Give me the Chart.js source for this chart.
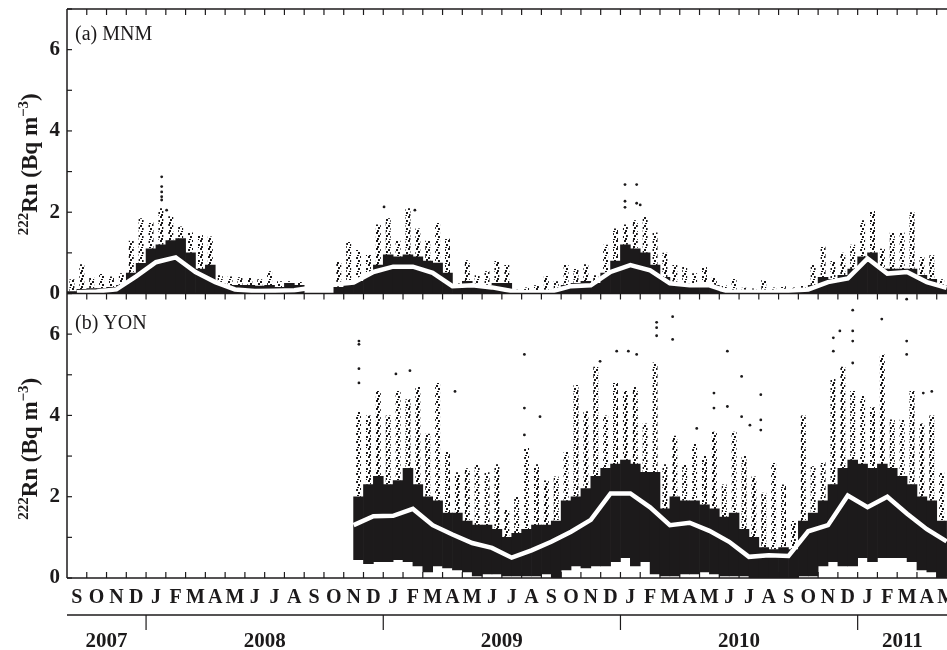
<!DOCTYPE html>
<html>
<head>
<meta charset="utf-8">
<title>222Rn at MNM and YON</title>
<script src="https://cdn.jsdelivr.net/npm/chart.js@4.4.1/dist/chart.umd.min.js"></script>
<style>
  html, body { margin: 0; padding: 0; background: #fff; }
  #wrap { width: 947px; height: 650px; }
</style>
</head>
<body>
<div id="wrap"><canvas id="rn" width="947" height="650"></canvas></div>
<script>
// Month initials along the time axis, Sep 2007 .. May 2011 (month index 0 = Sep 2007)
const monthLabels = [
  'S','O','N','D',
  'J','F','M','A','M','J','J','A','S','O','N','D',
  'J','F','M','A','M','J','J','A','S','O','N','D',
  'J','F','M','A','M','J','J','A','S','O','N','D',
  'J','F','M','A','M'
];
const yearLabels = ['2007', '2008', '2009', '2010', '2011'];
// month index at which each labelled year begins on the axis
const yearStartMonth = [0, 4, 16, 28, 40];

// Monthly mean 222Rn (Bq m-3), one value per month from Sep 2007
const mnmMonthlyMean = [
  0.03, 0.05, 0.10, 0.42, 0.77, 0.89, 0.53, 0.28, 0.10, 0.06, 0.07, 0.08,
  null, 0.22, 0.27, 0.53, 0.66, 0.66, 0.51, 0.18, 0.20, 0.15, 0.06, 0.02,
  0.05, 0.18, 0.20, 0.53, 0.70, 0.57, 0.25, 0.20, 0.20, 0.04, 0.04, 0.04,
  0.07, 0.10, 0.28, 0.37, 0.86, 0.49, 0.53, 0.28, 0.14
];
const yonMonthlyMean = [
  null, null, null, null, null, null, null, null, null, null, null, null,
  null, null, 1.30, 1.52, 1.53, 1.70, 1.30, 1.07, 0.86, 0.74, 0.50, 0.68,
  0.89, 1.14, 1.43, 2.08, 2.08, 1.74, 1.30, 1.36, 1.16, 0.89, 0.52, 0.56,
  0.54, 1.15, 1.30, 2.03, 1.74, 2.00, 1.58, 1.20, 0.90
];

// Hourly values summarised per half month (two bins per month from Sep 2007):
// top of the dense band and top of the sparse spikes
const mnmCoreTop = [
  0.05, 0.10, 0.12, 0.12, 0.15, 0.20, 0.50, 0.74, 1.10, 1.20, 1.30, 1.35,
  1.00, 0.60, 0.70, 0.25, 0.20, 0.20, 0.20, 0.18, 0.20, 0.15, 0.25, 0.20,
  null, null, null, 0.15, 0.25, 0.30, 0.45, 0.70, 0.95, 0.90, 0.95, 0.90,
  0.80, 0.75, 0.50, 0.15, 0.30, 0.20, 0.20, 0.25, 0.25, 0.05, 0.05, 0.05,
  0.08, 0.10, 0.20, 0.25, 0.30, 0.25, 0.50, 0.80, 1.20, 1.10, 1.00, 0.70,
  0.40, 0.20, 0.25, 0.22, 0.25, 0.20, 0.05, 0.08, 0.06, 0.06, 0.06, 0.06,
  0.08, 0.08, 0.12, 0.20, 0.40, 0.35, 0.45, 0.60, 0.90, 1.00, 0.60, 0.60,
  0.60, 0.60, 0.45, 0.35, 0.20, 0.15
];
const mnmSpikeTop = [
  0.35, 0.72, 0.40, 0.48, 0.42, 0.50, 1.30, 1.85, 1.75, 2.10, 1.90, 1.65,
  1.50, 1.45, 1.40, 0.45, 0.42, 0.40, 0.38, 0.35, 0.55, 0.30, 0.30, 0.28,
  null, null, null, 0.80, 1.27, 1.07, 0.95, 1.70, 1.85, 1.30, 2.10, 1.60,
  1.30, 1.75, 1.35, 0.25, 0.82, 0.45, 0.55, 0.80, 0.70, 0.12, 0.15, 0.20,
  0.43, 0.30, 0.70, 0.60, 0.72, 0.45, 1.20, 1.60, 1.70, 1.80, 1.90, 1.50,
  1.00, 0.70, 0.65, 0.50, 0.66, 0.40, 0.20, 0.36, 0.14, 0.12, 0.33, 0.15,
  0.18, 0.15, 0.20, 0.70, 1.15, 0.80, 1.00, 1.20, 1.80, 2.05, 1.10, 1.50,
  1.50, 2.00, 0.90, 0.94, 0.35, 0.30
];
const yonLow = [
  null, null, null, null, null, null, null, null, null, null, null, null,
  null, null, null, null, null, null, null, null, null, null, null, null,
  null, null, null, null, null, 0.45, 0.35, 0.40, 0.40, 0.45, 0.40, 0.30,
  0.15, 0.30, 0.25, 0.20, 0.15, 0.05, 0.10, 0.10, 0.05, 0.05, 0.05, 0.05,
  0.10, 0.00, 0.20, 0.30, 0.25, 0.30, 0.30, 0.40, 0.50, 0.30, 0.40, 0.10,
  0.05, 0.05, 0.10, 0.10, 0.15, 0.10, 0.05, 0.05, 0.05, 0.00, 0.00, 0.00,
  0.00, 0.00, 0.05, 0.05, 0.30, 0.40, 0.30, 0.30, 0.50, 0.40, 0.50, 0.50,
  0.50, 0.40, 0.20, 0.15, 0.00, 0.05
];
const yonCoreTop = [
  null, null, null, null, null, null, null, null, null, null, null, null,
  null, null, null, null, null, null, null, null, null, null, null, null,
  null, null, null, null, null, 2.00, 2.30, 2.50, 2.30, 2.40, 2.70, 2.30,
  2.00, 1.90, 1.60, 1.60, 1.40, 1.30, 1.30, 1.20, 1.00, 1.10, 1.20, 1.30,
  1.30, 1.40, 1.90, 2.00, 2.20, 2.50, 2.70, 2.80, 2.90, 2.80, 2.60, 2.60,
  1.70, 2.00, 1.90, 1.90, 1.80, 1.70, 1.50, 1.60, 1.20, 1.00, 0.75, 0.70,
  0.75, 0.70, 1.40, 1.60, 1.90, 2.30, 2.70, 2.90, 2.80, 2.70, 2.80, 2.70,
  2.50, 2.30, 2.00, 1.90, 1.40, 1.00
];
const yonSpikeTop = [
  null, null, null, null, null, null, null, null, null, null, null, null,
  null, null, null, null, null, null, null, null, null, null, null, null,
  null, null, null, null, null, 4.10, 4.00, 4.60, 4.00, 4.60, 4.40, 4.70,
  3.55, 4.80, 3.10, 2.60, 2.70, 2.80, 2.60, 2.80, 1.70, 2.00, 3.20, 2.80,
  2.40, 2.50, 3.10, 4.75, 4.10, 5.20, 4.00, 4.80, 4.60, 4.70, 3.80, 5.30,
  2.80, 3.50, 2.80, 3.30, 3.00, 3.60, 2.30, 3.60, 3.00, 2.50, 2.10, 2.85,
  2.30, 1.40, 4.00, 2.75, 2.85, 4.90, 5.20, 4.60, 4.50, 4.20, 5.50, 3.90,
  3.90, 4.60, 3.80, 4.00, 2.60, 2.20
];

// Isolated high hourly values: [month index, Bq m-3]
const mnmIsolated = [
  [4.79, 2.87], [4.79, 2.63], [4.79, 2.50], [4.79, 2.38], [4.79, 2.30], [5.04, 2.05],
  [16.04, 2.13], [17.60, 2.05],
  [28.23, 2.68], [28.23, 2.27], [28.23, 2.12], [28.82, 2.68], [28.82, 2.22], [29.00, 2.18]
];
const yonIsolated = [
  [14.77, 5.83], [14.77, 5.75], [14.77, 5.15], [14.77, 4.80], [16.64, 5.02], [17.35, 5.10],
  [19.63, 4.59], [23.14, 5.50], [23.14, 4.18], [23.14, 3.52], [23.93, 3.97], [26.97, 5.33],
  [27.81, 5.58], [28.40, 5.58], [28.82, 5.50], [29.83, 6.29], [29.83, 6.16], [29.83, 5.96],
  [30.64, 6.43], [30.64, 5.87], [31.86, 3.68], [32.73, 4.55], [32.73, 4.18], [33.41, 5.58],
  [33.41, 4.22], [34.13, 4.96], [34.13, 3.97], [34.55, 3.76], [35.10, 4.51], [35.10, 3.89],
  [35.10, 3.64], [38.77, 5.91], [38.77, 5.58], [39.10, 6.08], [39.75, 6.59], [39.75, 6.08],
  [39.75, 5.83], [39.75, 5.29], [41.22, 6.37], [42.48, 6.86], [42.48, 5.83], [42.48, 5.50],
  [43.32, 4.55], [43.75, 4.59]
];

const X_MAX = 44.52;         // right edge of the visible time axis, in months
const BINS_PER_MONTH = 2;
const INK = '#1c1a1b';
const SERIF = '"Liberation Serif", "Times New Roman", serif';

Chart.defaults.font.family = SERIF;
Chart.defaults.color = INK;

// stippled fill for the sparse part of each column (fixed 8x8 tile)
function stipple() {
  const c = document.createElement('canvas');
  c.width = 8; c.height = 8;
  const g = c.getContext('2d');
  g.fillStyle = INK;
  [[0, 0], [4, 1], [2, 3], [6, 4], [1, 6], [5, 7]].forEach(([dx, dy]) => g.fillRect(dx, dy, 2, 2));
  return g.createPattern(c, 'repeat');
}

const binX = i => (i + 0.5) / BINS_PER_MONTH;
function rangeBars(lows, tops) {
  return tops
    .map((t, i) => (t == null ? null : { x: binX(i), y: [lows ? lows[i] : 0, t] }))
    .filter(Boolean);
}
const meanPoints = arr => arr.map((v, i) => ({ x: i + 0.5, y: v }));
const isolatedPoints = arr => arr.map(p => ({ x: p[0], y: p[1] }));

function panelDatasets(yAxisID, lows, coreTop, spikeTop, means, isolated) {
  return [
    {
      type: 'line', yAxisID, xAxisID: 'x', order: 0,
      data: meanPoints(means),
      borderColor: '#ffffff', borderWidth: 4.5, pointRadius: 0,
      spanGaps: true, tension: 0
    },
    {
      type: 'scatter', yAxisID, xAxisID: 'x', order: 1,
      data: isolatedPoints(isolated),
      backgroundColor: INK, borderWidth: 0, pointRadius: 1.4
    },
    {
      type: 'bar', yAxisID, xAxisID: 'x', order: 3, grouped: false,
      data: rangeBars(lows, coreTop),
      backgroundColor: INK, borderWidth: 0,
      barPercentage: 1.0, categoryPercentage: 1.0
    },
    {
      type: 'bar', yAxisID, xAxisID: 'x', order: 2, grouped: false,
      data: rangeBars(coreTop, spikeTop),
      backgroundColor: stipple(), borderWidth: 0,
      barPercentage: 0.5, categoryPercentage: 1.0
    }
  ];
}

// frame, inward tick marks, year separators
const framePlugin = {
  id: 'frame',
  afterDraw(chart) {
    const { ctx, chartArea: { left, right, top, bottom }, scales } = chart;
    const x = scales.x, yT = scales.yTop, yB = scales.yBot, yr = scales.xYear;
    const mid = yT.bottom;
    const seg = (x1, y1, x2, y2) => { ctx.beginPath(); ctx.moveTo(x1, y1); ctx.lineTo(x2, y2); ctx.stroke(); };
    ctx.save();
    ctx.strokeStyle = INK;
    ctx.lineWidth = 1.5;
    seg(left, top, right, top);
    seg(left, mid, right, mid);
    seg(left, bottom, right, bottom);
    seg(left, top, left, bottom);
    ctx.lineWidth = 1.2;
    for (let m = 1; m < monthLabels.length; m++) {
      const px = x.getPixelForValue(m);
      seg(px, top, px, top + 6);
      seg(px, mid, px, mid + 6);
      seg(px, bottom, px, bottom - 6);
    }
    [yT, yB].forEach(s => {
      for (let v = 0; v <= 7; v++) {
        const py = s.getPixelForValue(v);
        seg(left, py, left + 5, py);
      }
    });
    ctx.lineWidth = 1.5;
    seg(left, yr.top, right, yr.top);
    ctx.lineWidth = 1.2;
    yearStartMonth.slice(1).forEach(m => {
      const px = x.getPixelForValue(m);
      seg(px, yr.top, px, yr.top + 15);
    });
    ctx.restore();
  }
};

// rotated axis titles with superscripts, and panel captions
const textPlugin = {
  id: 'panelText',
  afterDraw(chart) {
    const { ctx, chartArea: { left }, scales } = chart;
    const big = 'bold 23px ' + SERIF;
    const small = 'bold 15px ' + SERIF;
    const parts = [['222', small, -9], ['Rn (Bq m', big, 0], ['\u22123', small, -9], [')', big, 0]];
    [scales.yTop, scales.yBot].forEach(s => {
      const cy = (s.top + s.bottom) / 2 + 13;
      ctx.save();
      ctx.translate(37, cy);
      ctx.rotate(-Math.PI / 2);
      ctx.fillStyle = INK;
      ctx.textBaseline = 'alphabetic';
      let total = 0;
      parts.forEach(p => { ctx.font = p[1]; total += ctx.measureText(p[0]).width; });
      let tx = -total / 2;
      parts.forEach(p => {
        ctx.font = p[1];
        ctx.fillText(p[0], tx, p[2]);
        tx += ctx.measureText(p[0]).width;
      });
      ctx.restore();
    });
    ctx.save();
    ctx.fillStyle = INK;
    ctx.font = '20px ' + SERIF;
    ctx.textBaseline = 'alphabetic';
    ctx.fillText('(a) MNM', left + 8, scales.yTop.top + 31);
    ctx.fillText('(b) YON', left + 8, scales.yBot.top + 35);
    ctx.restore();
  }
};

const yAxis = (weight) => ({
  type: 'linear', position: 'left', stack: 'panels', stackWeight: 1, weight,
  min: 0, max: 7,
  grid: { display: false, drawTicks: false },
  border: { display: false },
  ticks: {
    stepSize: 1, padding: 7, color: INK,
    font: { size: 21, weight: 'bold', family: SERIF },
    callback: v => (v % 2 === 0 ? String(v) : '')
  },
  afterFit: s => { s.width = 67; s.paddingTop = 0; s.paddingBottom = 0; }
});

// the time axis runs off the right edge of the canvas, so no label padding is reserved
const timeAxis = (height, extra) => Object.assign({
  type: 'linear', position: 'bottom', min: 0, max: X_MAX, offset: false,
  grid: { display: false, drawTicks: false, offset: false },
  border: { display: false },
  afterFit: s => {
    s.height = height;
    s.paddingLeft = 0;
    s.paddingRight = 0;
  }
}, extra);

new Chart(document.getElementById('rn'), {
  type: 'bar',
  data: {
    datasets: [
      ...panelDatasets('yTop', null, mnmCoreTop, mnmSpikeTop, mnmMonthlyMean, mnmIsolated),
      ...panelDatasets('yBot', yonLow, yonCoreTop, yonSpikeTop, yonMonthlyMean, yonIsolated)
    ]
  },
  options: {
    responsive: false,
    animation: false,
    events: [],
    layout: { padding: { top: 9, left: 0, right: 0, bottom: 0 }, autoPadding: false },
    plugins: { legend: { display: false }, tooltip: { enabled: false } },
    scales: {
      x: timeAxis(0, { display: false }),
      xMonth: timeAxis(37, {
        afterBuildTicks: s => { s.ticks = monthLabels.map((_, i) => ({ value: i + 0.5 })); },
        ticks: {
          autoSkip: false, maxRotation: 0, minRotation: 0, padding: 8, color: INK,
          font: { size: 20, weight: 'bold', family: SERIF },
          callback: (v, i) => monthLabels[i]
        }
      }),
      xYear: timeAxis(35, {
        afterBuildTicks: s => {
          s.ticks = yearStartMonth.map((m, i) => {
            const end = i + 1 < yearStartMonth.length ? yearStartMonth[i + 1] : X_MAX;
            return { value: (m + end) / 2 };
          });
        },
        ticks: {
          autoSkip: false, maxRotation: 0, minRotation: 0, padding: 14, color: INK,
          font: { size: 21, weight: 'bold', family: SERIF },
          callback: (v, i) => yearLabels[i]
        }
      }),
      yBot: yAxis(1),
      yTop: yAxis(2)
    }
  },
  plugins: [framePlugin, textPlugin]
});
</script>
</body>
</html>
